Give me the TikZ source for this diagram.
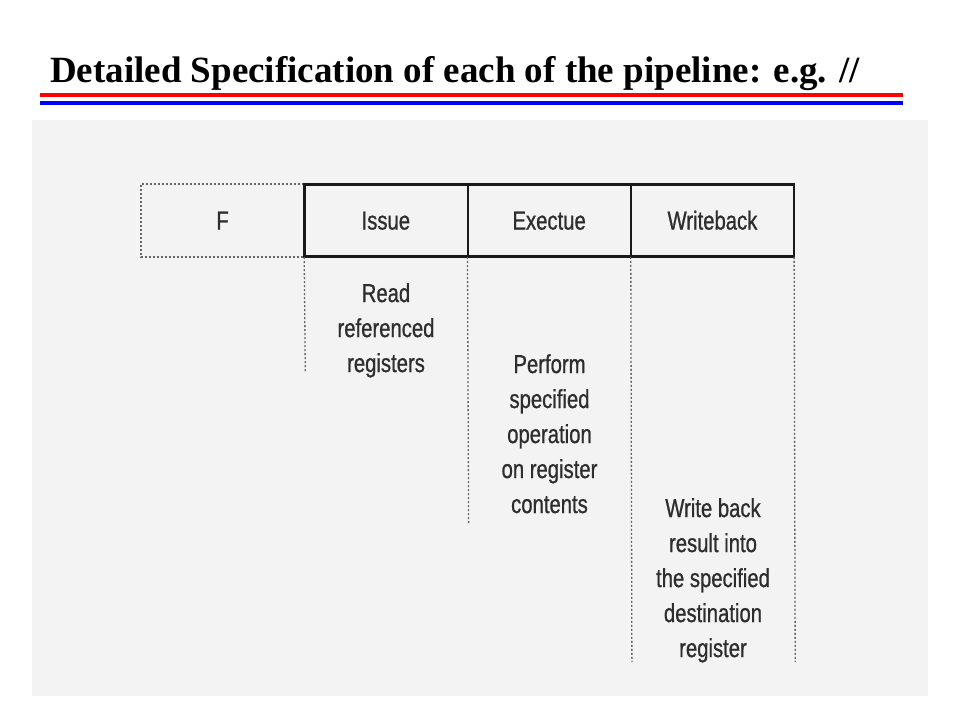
\documentclass[tikz,border=0pt]{standalone}
\usepackage{fontspec}
\setmainfont{Liberation Serif}
\newfontfamily\scanfont[FakeStretch=0.78, FakeBold=0.8]{Liberation Sans}
\usetikzlibrary{matrix}
\definecolor{scanbg}{RGB}{243,243,243}
\definecolor{scanink}{RGB}{45,45,45}
\newcommand{\stagefont}{\scanfont\fontsize{26}{35}\selectfont}

\begin{document}
\begin{tikzpicture}[x=1pt, y=-1pt,
    stageline/.style={draw=black!90, line width=2.6pt},
    guide/.style={draw=black!60, line width=1.3pt, dash pattern=on 2pt off 2pt},
    note/.style={font=\stagefont, text=scanink, align=center,
                 inner sep=0pt, anchor=north}]
\useasboundingbox (0,0) rectangle (960,720);
\fill[white] (0,0) rectangle (960,720);

\node[anchor=base west, inner sep=0pt,
      font=\bfseries\fontsize{37}{40}\selectfont] (title) at (50,82)
      {Detailed Specification of each of the pipeline: e.g. //};
\draw[red, line width=4pt] (40,95) -- (903,95);
\draw[blue, line width=4pt] (40,103) -- (903,103);

\fill[scanbg] (32,120) rectangle (928,696);

\matrix (m) [matrix of nodes,
             nodes={minimum width=163.3pt, minimum height=73pt,
                    inner sep=0pt, outer sep=0pt,
                    font=\stagefont, text=scanink},
             column sep=0pt, inner sep=0pt, outer sep=0pt] at (467.5,220.5)%
{
F & Issue & Exectue & Writeback \\
};

\draw[guide] (m-1-1.north east) -- (m-1-1.north west)
             -- (m-1-1.south west) -- (m-1-1.south east);
\draw[stageline] (m-1-2.north west) rectangle (m-1-4.south east);
\draw[stageline, line width=2pt] (m-1-3.north west) -- (m-1-3.south west);
\draw[stageline, line width=2pt] (m-1-4.north west) -- (m-1-4.south west);

\node[note] (read) at (386,283) {Read\\referenced\\registers};
\node[note] (perform) at (549.5,354)
      {Perform\\specified\\operation\\on register\\contents};
\node[note] (writeres) at (713,498)
      {Write back\\result into\\the specified\\destination\\register};

\coordinate (issue-end) at (305.3,373);
\coordinate (exec-end) at (468.6,523);
\coordinate (wb-end) at (631.9,662);
\coordinate (last-end) at (795.2,662);
\draw[guide] (m-1-2.south west) -- (issue-end);
\draw[guide] (m-1-3.south west) -- (exec-end);
\draw[guide] (m-1-4.south west) -- (wb-end);
\draw[guide] (m-1-4.south east) -- (last-end);
\end{tikzpicture}
\end{document}
